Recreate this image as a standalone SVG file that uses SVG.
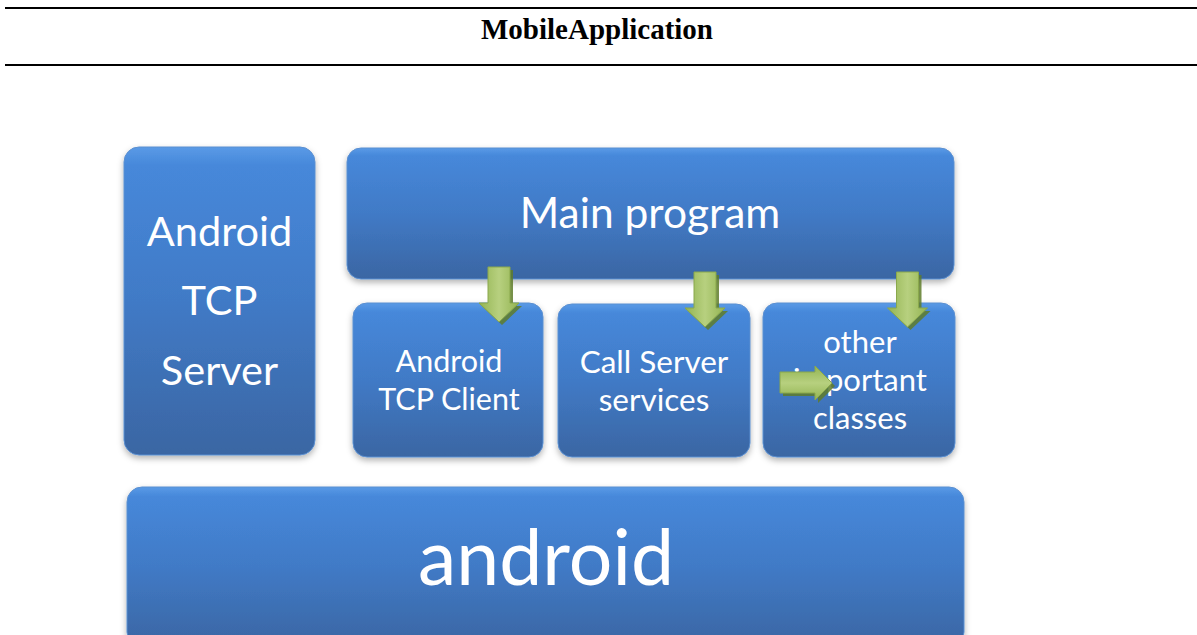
<svg xmlns="http://www.w3.org/2000/svg" width="1197" height="635" viewBox="0 0 1197 635">
  <style>
    .box { fill: url(#blueGrad); stroke: #5b8fd0; stroke-width: 1; filter: url(#shadow); }
    .lbl { font-family: Lato, "Liberation Sans", sans-serif; fill: #ffffff; text-anchor: middle; }
    .title { font-family: "Liberation Serif", serif; font-weight: bold; font-size: 29px; fill: #000000; text-anchor: middle; }
    .arrow { fill: url(#greenGrad); stroke: #8aa84c; stroke-width: 1; }
    .arrowShadow { fill: #5f7d2a; opacity: 0.85; }
  </style>
  <defs>
    <linearGradient id="blueGrad" x1="0" y1="0" x2="0" y2="1">
      <stop offset="0" stop-color="#5a9ae6"/>
      <stop offset="0.06" stop-color="#4688da"/>
      <stop offset="0.5" stop-color="#417ac6"/>
      <stop offset="1" stop-color="#3a66a3"/>
    </linearGradient>
    <linearGradient id="greenGrad" x1="0" y1="0" x2="1" y2="0">
      <stop offset="0" stop-color="#93b452"/>
      <stop offset="0.5" stop-color="#b7d07f"/>
      <stop offset="1" stop-color="#93b452"/>
    </linearGradient>
    <linearGradient id="greenGradV" x1="0" y1="0" x2="0" y2="1">
      <stop offset="0" stop-color="#93b452"/>
      <stop offset="0.5" stop-color="#b7d07f"/>
      <stop offset="1" stop-color="#93b452"/>
    </linearGradient>
    <filter id="shadow" x="-5%" y="-5%" width="110%" height="115%">
      <feDropShadow dx="0" dy="3" stdDeviation="3" flood-color="#000000" flood-opacity="0.3"/>
    </filter>
    <path id="downArrow" d="M-11,0 H11 V36 H20 L0,55 L-20,36 H-11 Z"/>
  </defs>

  <rect width="1197" height="635" fill="#ffffff"/>

  <g id="header">
    <line x1="5" y1="8" x2="1197" y2="8" stroke="#000" stroke-width="2"/>
    <text class="title" x="597" y="39">MobileApplication</text>
    <line x1="5" y1="65" x2="1197" y2="65" stroke="#000" stroke-width="2"/>
  </g>

  <g id="node-tcp-server">
    <rect class="box" x="124" y="147" width="191" height="308" rx="15"/>
    <text class="lbl" x="219.5" y="246" font-size="41.5">Android</text>
    <text class="lbl" x="219.5" y="315" font-size="41.5">TCP</text>
    <text class="lbl" x="219.5" y="385" font-size="41.5">Server</text>
  </g>

  <g id="node-main">
    <rect class="box" x="347" y="148" width="607" height="131" rx="14"/>
    <text class="lbl" x="650" y="228" font-size="42.5">Main program</text>
  </g>

  <g id="node-tcp-client">
    <rect class="box" x="353" y="303" width="190" height="154" rx="14"/>
    <text class="lbl" x="449" y="372" font-size="30.5">Android</text>
    <text class="lbl" x="449" y="410" font-size="30.5">TCP Client</text>
  </g>

  <g id="node-call-server">
    <rect class="box" x="558" y="304" width="192" height="153" rx="14"/>
    <text class="lbl" x="654" y="373" font-size="31.5">Call Server</text>
    <text class="lbl" x="654" y="411" font-size="31.5">services</text>
  </g>

  <g id="node-other">
    <rect class="box" x="763" y="303" width="192" height="154" rx="14"/>
    <text class="lbl" x="860" y="353" font-size="31">other</text>
    <text class="lbl" x="860" y="391" font-size="31">important</text>
    <text class="lbl" x="860" y="429" font-size="31">classes</text>
  </g>

  <g id="node-android">
    <rect class="box" x="127" y="487" width="837" height="160" rx="15"/>
    <text class="lbl" x="546" y="585" font-size="77">android</text>
  </g>

  <g id="connectors">
    <use href="#downArrow" class="arrowShadow" transform="translate(502,270)"/>
    <use href="#downArrow" class="arrow" transform="translate(499,267)"/>
    <use href="#downArrow" class="arrowShadow" transform="translate(708,275)"/>
    <use href="#downArrow" class="arrow" transform="translate(705,272)"/>
    <use href="#downArrow" class="arrowShadow" transform="translate(910.5,275)"/>
    <use href="#downArrow" class="arrow" transform="translate(907.5,272)"/>
    <path class="arrowShadow" d="M783,375 H818 V369 L835,386 L818,403 V396 H783 Z"/>
    <path d="M780,372 H815 V366 L832,383 L815,400 V393 H780 Z" fill="url(#greenGradV)" stroke="#8aa84c" stroke-width="1"/>
  </g>
</svg>
